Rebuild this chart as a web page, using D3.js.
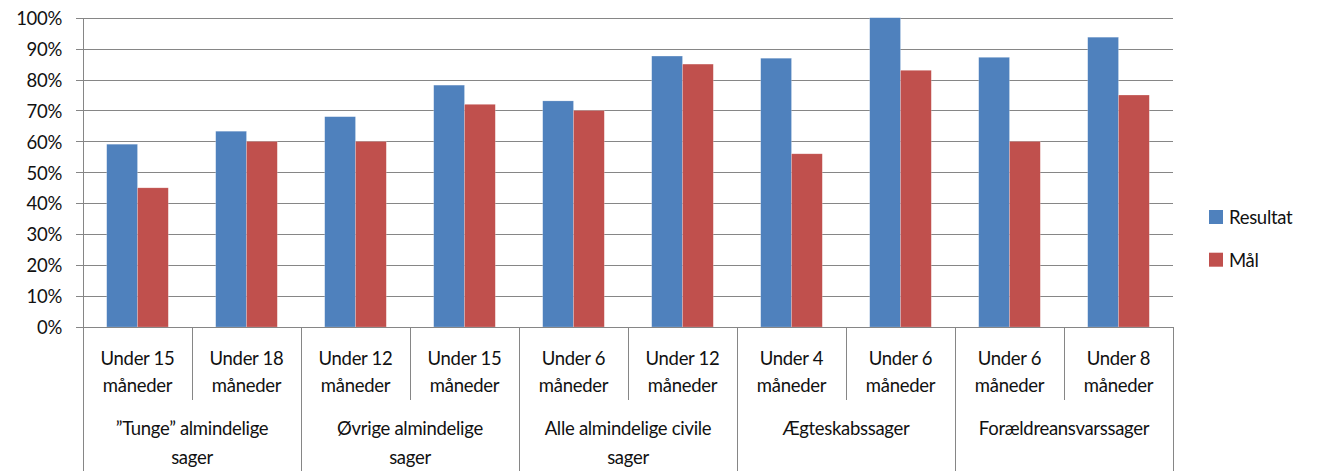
<!DOCTYPE html>
<meta charset="utf-8">
<style>
body {
  margin: 0;
  background: #fff;
}
svg text {
  font-family: Lato, "Open Sans", sans-serif;
  font-size: 18.5px;
  letter-spacing: -0.3px;
  fill: #111;
}
.axis path, .axis line, .sep {
  stroke: #868686;
  stroke-width: 1px;
  shape-rendering: crispEdges;
}
.grid line {
  stroke: #868686;
  shape-rendering: crispEdges;
}
.grid path {
  display: none;
}
</style>
<body>
<div id="chart"></div>
<script src="https://d3js.org/d3.v7.min.js"></script>
<script>

var subLabels = [
  ["Under 15", "måneder"],
  ["Under 18", "måneder"],
  ["Under 12", "måneder"],
  ["Under 15", "måneder"],
  ["Under 6", "måneder"],
  ["Under 12", "måneder"],
  ["Under 4", "måneder"],
  ["Under 6", "måneder"],
  ["Under 6", "måneder"],
  ["Under 8", "måneder"]
];
var groupLabels = [
  ["”Tunge” almindelige", "sager"],
  ["Øvrige almindelige", "sager"],
  ["Alle almindelige civile", "sager"],
  ["Ægteskabssager"],
  ["Forældreansvarssager"]
];
var seriesNames = ["Resultat", "Mål"];
var resultat = [0.591, 0.633, 0.680, 0.782, 0.731, 0.876, 0.869, 1.0, 0.872, 0.937];
var maal = [0.45, 0.60, 0.60, 0.72, 0.70, 0.85, 0.56, 0.83, 0.60, 0.75];
var yTicks = [0, 0.1, 0.2, 0.3, 0.4, 0.5, 0.6, 0.7, 0.8, 0.9, 1.0];
var colors = ["#4f81bd", "#c0504d"];

var W = 1321, H = 471;
var plotL = 83, plotR = 1173, plotT = 17.7, plotB = 327;

var svg = d3.select("#chart").append("svg")
  .attr("width", W)
  .attr("height", H);

var y = d3.scaleLinear().domain([0, 1]).range([plotB, plotT]);
var x0 = d3.scaleBand()
  .domain(d3.range(subLabels.length))
  .range([plotL, plotR])
  .paddingInner(0.435)
  .paddingOuter(0.2175);
var x1 = d3.scaleBand().domain(seriesNames).range([0, x0.bandwidth()]);
var edge = d3.scaleLinear().domain([0, subLabels.length]).range([plotL, plotR]);

// gridlines
svg.append("g")
  .attr("class", "grid")
  .attr("transform", "translate(" + plotL + ",0)")
  .call(d3.axisLeft(y).tickValues(yTicks).tickSize(-(plotR - plotL)).tickFormat(""));

// y axis
var yAxis = svg.append("g")
  .attr("class", "axis")
  .attr("transform", "translate(" + plotL + ",0)")
  .call(d3.axisLeft(y).tickValues(yTicks).tickSize(7).tickSizeOuter(0).tickPadding(14).tickFormat(d3.format(".0%")));
yAxis.attr("font-family", null).attr("font-size", null);
yAxis.selectAll("text").attr("dy", "0.36em");

// bars
var rows = seriesNames.map(function (s, i) { return { name: s, values: i === 0 ? resultat : maal, color: colors[i] }; });
svg.append("g").selectAll("g")
  .data(rows)
  .join("g")
    .attr("fill", function (d) { return d.color; })
  .selectAll("rect")
  .data(function (d) { return d.values.map(function (v, i) { return { i: i, v: v, s: d.name }; }); })
  .join("rect")
    .attr("x", function (d) { return x0(d.i) + x1(d.s); })
    .attr("width", x1.bandwidth())
    .attr("y", function (d) { return y(d.v); })
    .attr("height", function (d) { return plotB - y(d.v); })
    .attr("stroke", "rgba(255,255,255,0.35)")
    .attr("stroke-width", 0.6);

// x axis baseline
svg.append("line").attr("class", "sep")
  .attr("x1", plotL - 7).attr("x2", plotR)
  .attr("y1", plotB).attr("y2", plotB);

// separators: sub-category edges short, group edges long
d3.range(subLabels.length + 1).forEach(function (k) {
  svg.append("line").attr("class", "sep")
    .attr("x1", Math.round(edge(k)) + 0.5).attr("x2", Math.round(edge(k)) + 0.5)
    .attr("y1", plotB).attr("y2", k % 2 === 0 ? H : 400);
});

// sub labels
var sub = svg.append("g").selectAll("text")
  .data(subLabels)
  .join("text")
    .attr("text-anchor", "middle")
    .attr("x", function (d, i) { return x0(i) + x0.bandwidth() / 2; });
sub.selectAll("tspan")
  .data(function (d) { return d; })
  .join("tspan")
    .attr("x", function () { return d3.select(this.parentNode).attr("x"); })
    .attr("y", function (d, j) { return 365 + j * 27; })
    .text(function (d) { return d; });

// group labels
var grp = svg.append("g").selectAll("text")
  .data(groupLabels)
  .join("text")
    .attr("text-anchor", "middle")
    .attr("x", function (d, g) { return edge(2 * g + 1); });
grp.selectAll("tspan")
  .data(function (d) { return d; })
  .join("tspan")
    .attr("x", function () { return d3.select(this.parentNode).attr("x"); })
    .attr("y", function (d, j) { return 435 + j * 29; })
    .text(function (d) { return d; });

// legend
var legend = svg.append("g").selectAll("g")
  .data(rows)
  .join("g")
    .attr("transform", function (d, i) { return "translate(1209," + (210 + i * 42.7) + ")"; });
legend.append("rect")
  .attr("width", 14).attr("height", 14)
  .attr("fill", function (d) { return d.color; });
legend.append("text")
  .attr("x", 20).attr("y", 14)
  .text(function (d) { return d.name; });

</script>
</body>
